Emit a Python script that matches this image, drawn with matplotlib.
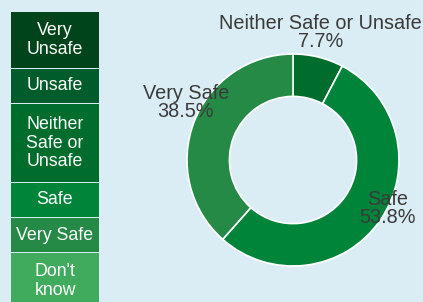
import matplotlib
matplotlib.use("Agg")
import matplotlib.pyplot as plt
from matplotlib.patches import Rectangle

# Survey: how safe do respondents feel
categories = ["Very Unsafe", "Unsafe", "Neither Safe or Unsafe", "Safe", "Very Safe", "Don't know"]
legend_labels = ["Very\nUnsafe", "Unsafe", "Neither\nSafe or\nUnsafe", "Safe", "Very Safe", "Don't\nknow"]
counts = [0, 0, 1, 7, 5, 0]
colors = ["#00441b", "#005d2b", "#006d2c", "#00843a", "#258a46", "#41ab5d"]

BG = "#dbedf4"
TEXT = "#3a3a3a"

plt.rcParams['font.family'] = ['Liberation Sans', 'DejaVu Sans']

fig = plt.figure(figsize=(4.23, 3.02), dpi=100, facecolor=BG)
W, H = 423, 302

# --- donut ---
ax = fig.add_axes([187 / W, 36 / H, 212 / W, 212 / H])
ax.set_facecolor(BG)
vals = [c for c in counts if c > 0]
cols = [colors[i] for i, c in enumerate(counts) if c > 0]
labs = [categories[i] for i, c in enumerate(counts) if c > 0]
total = sum(vals)
ax.pie(vals, colors=cols, startangle=90, counterclock=False, radius=1.0,
       wedgeprops=dict(width=0.4, edgecolor="white", linewidth=1.2))
ax.set_xlim(-1, 1)
ax.set_ylim(-1, 1)
ax.set_aspect("equal")
ax.axis("off")

# label placement (data coords of the donut axes)
label_pos = [(0.26, 1.20), (0.89, -0.46), (-1.01, 0.54)]
for (x, y), lab, v in zip(label_pos, labs, vals):
    ax.text(x, y, f"{lab}\n{v / total * 100:.1f}%", ha="center", va="center",
            fontsize=14.3, color=TEXT, linespacing=0.95, clip_on=False)

# --- legend boxes ---
lax = fig.add_axes([11 / W, 0, 88 / W, 1])
lax.set_xlim(0, 88)
lax.set_ylim(H, 0)
lax.axis("off")
y = 12
for lab, col in zip(legend_labels, colors):
    n = lab.count("\n") + 1
    h = 12 + 22 * n
    lax.add_patch(Rectangle((0, y), 88, h, facecolor=col, edgecolor="none"))
    lax.text(44, y + h / 2, lab, ha="center", va="center", color="white",
             fontsize=12.8, linespacing=1.1)
    y += h + 1

fig.savefig("out.png", dpi=100, facecolor=BG)
